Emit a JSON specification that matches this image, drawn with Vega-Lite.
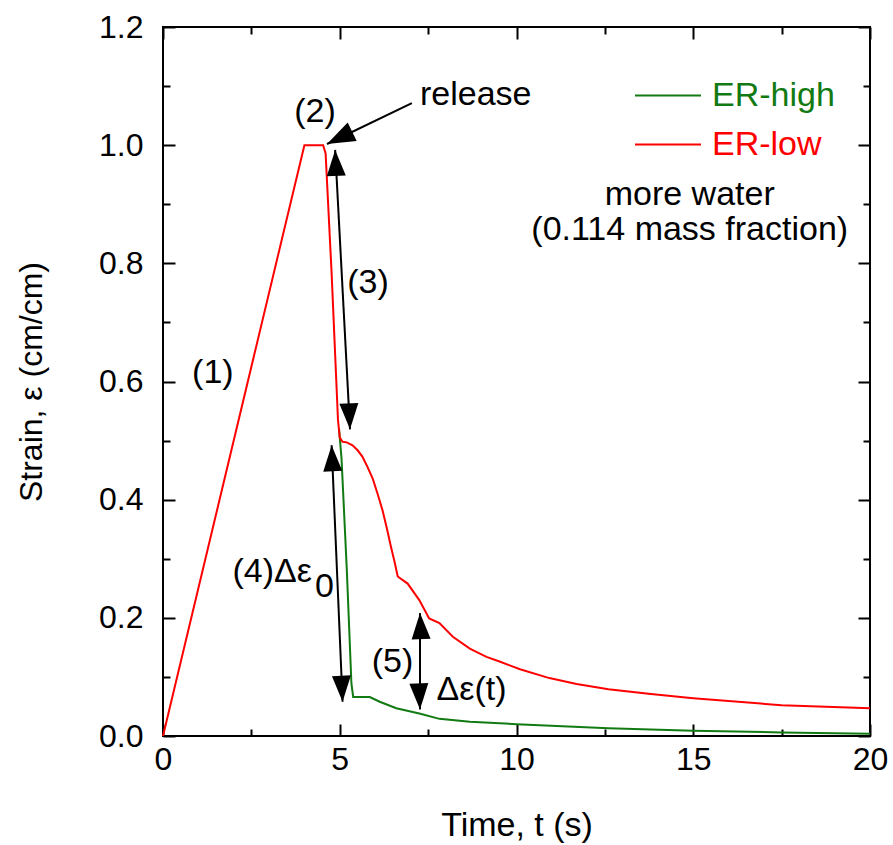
{
  "$schema": "https://vega.github.io/schema/vega-lite/v6.json",
  "width": 707,
  "height": 709,
  "autosize": {"type": "none"},
  "padding": {"left": 163, "top": 27, "right": 23, "bottom": 109},
  "background": "white",
  "config": {
    "view": {"stroke": "black", "strokeWidth": 2},
    "font": "Liberation Sans",
    "axis": {
      "domain": false, "tickColor": "black", "tickWidth": 2, "ticks": true,
      "labelFont": "Liberation Sans", "labelFontSize": 32, "labelColor": "black",
      "titleFont": "Liberation Sans", "titleFontSize": 34, "titleColor": "black", "titleFontWeight": "normal",
      "grid": false
    }
  },
  "datasets": {
    "curves": [
      {"t": 4.98, "strain": 0.52, "series": "ER-high"},
      {"t": 5.05, "strain": 0.47, "series": "ER-high"},
      {"t": 5.2, "strain": 0.281, "series": "ER-high"},
      {"t": 5.33, "strain": 0.089, "series": "ER-high"},
      {"t": 5.38, "strain": 0.066, "series": "ER-high"},
      {"t": 5.85, "strain": 0.066, "series": "ER-high"},
      {"t": 6.13, "strain": 0.058, "series": "ER-high"},
      {"t": 6.6, "strain": 0.047, "series": "ER-high"},
      {"t": 7.25, "strain": 0.038, "series": "ER-high"},
      {"t": 7.82, "strain": 0.029, "series": "ER-high"},
      {"t": 8.68, "strain": 0.024, "series": "ER-high"},
      {"t": 10.0, "strain": 0.02, "series": "ER-high"},
      {"t": 12.6, "strain": 0.013, "series": "ER-high"},
      {"t": 15.0, "strain": 0.009, "series": "ER-high"},
      {"t": 17.5, "strain": 0.006, "series": "ER-high"},
      {"t": 20.0, "strain": 0.004, "series": "ER-high"},
      {"t": 0.0, "strain": 0.0, "series": "ER-low"},
      {"t": 4.0, "strain": 1.0, "series": "ER-low"},
      {"t": 4.53, "strain": 1.0, "series": "ER-low"},
      {"t": 4.6, "strain": 0.986, "series": "ER-low"},
      {"t": 4.77, "strain": 0.783, "series": "ER-low"},
      {"t": 4.95, "strain": 0.535, "series": "ER-low"},
      {"t": 5.0, "strain": 0.505, "series": "ER-low"},
      {"t": 5.08, "strain": 0.498, "series": "ER-low"},
      {"t": 5.2, "strain": 0.497, "series": "ER-low"},
      {"t": 5.36, "strain": 0.492, "series": "ER-low"},
      {"t": 5.5, "strain": 0.484, "series": "ER-low"},
      {"t": 5.64, "strain": 0.473, "series": "ER-low"},
      {"t": 5.78, "strain": 0.456, "series": "ER-low"},
      {"t": 5.93, "strain": 0.436, "series": "ER-low"},
      {"t": 6.07, "strain": 0.41, "series": "ER-low"},
      {"t": 6.21, "strain": 0.382, "series": "ER-low"},
      {"t": 6.33, "strain": 0.352, "series": "ER-low"},
      {"t": 6.45, "strain": 0.32, "series": "ER-low"},
      {"t": 6.55, "strain": 0.295, "series": "ER-low"},
      {"t": 6.64, "strain": 0.27, "series": "ER-low"},
      {"t": 6.92, "strain": 0.258, "series": "ER-low"},
      {"t": 7.25, "strain": 0.23, "series": "ER-low"},
      {"t": 7.53, "strain": 0.199, "series": "ER-low"},
      {"t": 7.82, "strain": 0.191, "series": "ER-low"},
      {"t": 8.2, "strain": 0.168, "series": "ER-low"},
      {"t": 8.68, "strain": 0.148, "series": "ER-low"},
      {"t": 9.15, "strain": 0.134, "series": "ER-low"},
      {"t": 9.52, "strain": 0.126, "series": "ER-low"},
      {"t": 10.1, "strain": 0.113, "series": "ER-low"},
      {"t": 10.93, "strain": 0.098, "series": "ER-low"},
      {"t": 11.7, "strain": 0.088, "series": "ER-low"},
      {"t": 12.6, "strain": 0.079, "series": "ER-low"},
      {"t": 13.8, "strain": 0.071, "series": "ER-low"},
      {"t": 15.0, "strain": 0.064, "series": "ER-low"},
      {"t": 17.5, "strain": 0.052, "series": "ER-low"},
      {"t": 20.0, "strain": 0.047, "series": "ER-low"}
    ],
    "shafts": [
      {"t1": 7.04, "s1": 1.071, "t2": 4.64, "s2": 1.002},
      {"t1": 4.87, "s1": 0.992, "t2": 5.29, "s2": 0.519},
      {"t1": 4.77, "s1": 0.492, "t2": 5.08, "s2": 0.058},
      {"t1": 7.27, "s1": 0.208, "t2": 7.27, "s2": 0.045}
    ],
    "headsUp": [
      {"t": 4.87, "s": 0.992},
      {"t": 4.77, "s": 0.492},
      {"t": 7.27, "s": 0.208}
    ],
    "headsDown": [
      {"t": 5.29, "s": 0.519},
      {"t": 5.08, "s": 0.058},
      {"t": 7.27, "s": 0.045}
    ],
    "headRelease": [
      {"t": 4.64, "s": 1.002}
    ],
    "textCenter": [
      {"t": 1.41, "s": 0.614, "label": "(1)"},
      {"t": 4.3, "s": 1.056, "label": "(2)"},
      {"t": 5.8, "s": 0.766, "label": "(3)"},
      {"t": 14.9, "s": 0.915, "label": "more water"},
      {"t": 14.9, "s": 0.856, "label": "(0.114 mass fraction)"}
    ],
    "textLeft": [
      {"t": 7.27, "s": 1.085, "label": "release"},
      {"t": 4.3, "s": 0.253, "label": "0"},
      {"t": 7.74, "s": 0.078, "label": "Δε(t)"}
    ],
    "textRight": [
      {"t": 4.21, "s": 0.278, "label": "(4)Δε"},
      {"t": 7.08, "s": 0.126, "label": "(5)"}
    ]
  },
  "resolve": {"axis": {"x": "independent", "y": "independent"}},
  "layer": [
    {
      "data": {"name": "curves"},
      "mark": {"type": "line", "strokeWidth": 2},
      "encoding": {
        "x": {
          "field": "t", "type": "quantitative",
          "scale": {"domain": [0, 20], "nice": false, "zero": false},
          "axis": {
            "orient": "bottom", "title": "Time, t (s)",
            "values": [0, 5, 10, 15, 20], "format": "d",
            "offset": -12, "tickSize": 12,
            "labelPadding": 8, "labelFlush": false,
            "titleY": 111, "titleBaseline": "alphabetic"
          }
        },
        "y": {
          "field": "strain", "type": "quantitative",
          "scale": {"domain": [0, 1.2], "nice": false, "zero": false},
          "axis": {
            "orient": "left", "title": "Strain, ε (cm/cm)",
            "values": [0, 0.2, 0.4, 0.6, 0.8, 1.0, 1.2], "format": ".1f",
            "offset": -12, "tickSize": 12,
            "labelPadding": 20, "labelFlush": false,
            "titleX": -144, "titleBaseline": "middle", "titleFontSize": 32
          }
        },
        "color": {
          "field": "series", "type": "nominal",
          "scale": {"domain": ["ER-high", "ER-low"], "range": ["#127a12", "#ff0000"]},
          "legend": {
            "title": null, "orient": "none", "legendX": 471, "legendY": 44,
            "symbolType": "stroke", "symbolSize": 4356, "symbolStrokeWidth": 2,
            "clipHeight": 49, "rowPadding": 0, "padding": 0,
            "labelFont": "Liberation Sans", "labelFontSize": 34, "labelOffset": 10,
            "labelLimit": 400,
            "encode": {"labels": {"update": {"fill": {"scale": "color", "field": "value"}}}}
          }
        }
      }
    },
    {
      "data": {"name": "shafts"},
      "mark": {"type": "rule", "color": "black", "strokeWidth": 2},
      "encoding": {
        "x": {"field": "t1", "type": "quantitative", "axis": {
          "orient": "top", "title": null, "labels": false,
          "values": [0, 5, 10, 15, 20], "offset": -12, "tickSize": 12
        }},
        "y": {"field": "s1", "type": "quantitative", "axis": {
          "orient": "right", "title": null, "labels": false,
          "values": [0, 0.2, 0.4, 0.6, 0.8, 1.0, 1.2], "offset": -12, "tickSize": 12
        }},
        "x2": {"field": "t2"},
        "y2": {"field": "s2"}
      }
    },
    {
      "data": {"name": "headsUp"},
      "mark": {"type": "point", "shape": "M0,0L-0.73,2L0.73,2Z", "filled": true, "color": "black", "opacity": 1, "size": 676, "strokeWidth": 0, "angle": 357.5},
      "encoding": {
        "x": {"field": "t", "type": "quantitative", "axis": {
          "orient": "bottom", "title": null, "labels": false,
          "values": [2.5, 7.5, 12.5, 17.5], "offset": -7, "tickSize": 7
        }},
        "y": {"field": "s", "type": "quantitative", "axis": {
          "orient": "left", "title": null, "labels": false,
          "values": [0.1, 0.3, 0.5, 0.7, 0.9, 1.1], "offset": -7, "tickSize": 7
        }}
      }
    },
    {
      "data": {"name": "headsDown"},
      "mark": {"type": "point", "shape": "M0,0L-0.73,2L0.73,2Z", "filled": true, "color": "black", "opacity": 1, "size": 676, "strokeWidth": 0, "angle": 177.5},
      "encoding": {
        "x": {"field": "t", "type": "quantitative", "axis": {
          "orient": "top", "title": null, "labels": false,
          "values": [2.5, 7.5, 12.5, 17.5], "offset": -7, "tickSize": 7
        }},
        "y": {"field": "s", "type": "quantitative", "axis": {
          "orient": "right", "title": null, "labels": false,
          "values": [0.1, 0.3, 0.5, 0.7, 0.9, 1.1], "offset": -7, "tickSize": 7
        }}
      }
    },
    {
      "data": {"name": "headRelease"},
      "mark": {"type": "point", "shape": "M0,0L-0.73,2L0.73,2Z", "filled": true, "color": "black", "opacity": 1, "size": 784, "strokeWidth": 0, "angle": 244},
      "encoding": {
        "x": {"field": "t", "type": "quantitative", "axis": null},
        "y": {"field": "s", "type": "quantitative", "axis": null}
      }
    },
    {
      "data": {"name": "textCenter"},
      "mark": {"type": "text", "font": "Liberation Sans", "fontSize": 34, "color": "black", "align": "center", "baseline": "middle"},
      "encoding": {
        "x": {"field": "t", "type": "quantitative", "axis": null},
        "y": {"field": "s", "type": "quantitative", "axis": null},
        "text": {"field": "label"}
      }
    },
    {
      "data": {"name": "textLeft"},
      "mark": {"type": "text", "font": "Liberation Sans", "fontSize": 34, "color": "black", "align": "left", "baseline": "middle"},
      "encoding": {
        "x": {"field": "t", "type": "quantitative", "axis": null},
        "y": {"field": "s", "type": "quantitative", "axis": null},
        "text": {"field": "label"}
      }
    },
    {
      "data": {"name": "textRight"},
      "mark": {"type": "text", "font": "Liberation Sans", "fontSize": 34, "color": "black", "align": "right", "baseline": "middle"},
      "encoding": {
        "x": {"field": "t", "type": "quantitative", "axis": null},
        "y": {"field": "s", "type": "quantitative", "axis": null},
        "text": {"field": "label"}
      }
    }
  ]
}
